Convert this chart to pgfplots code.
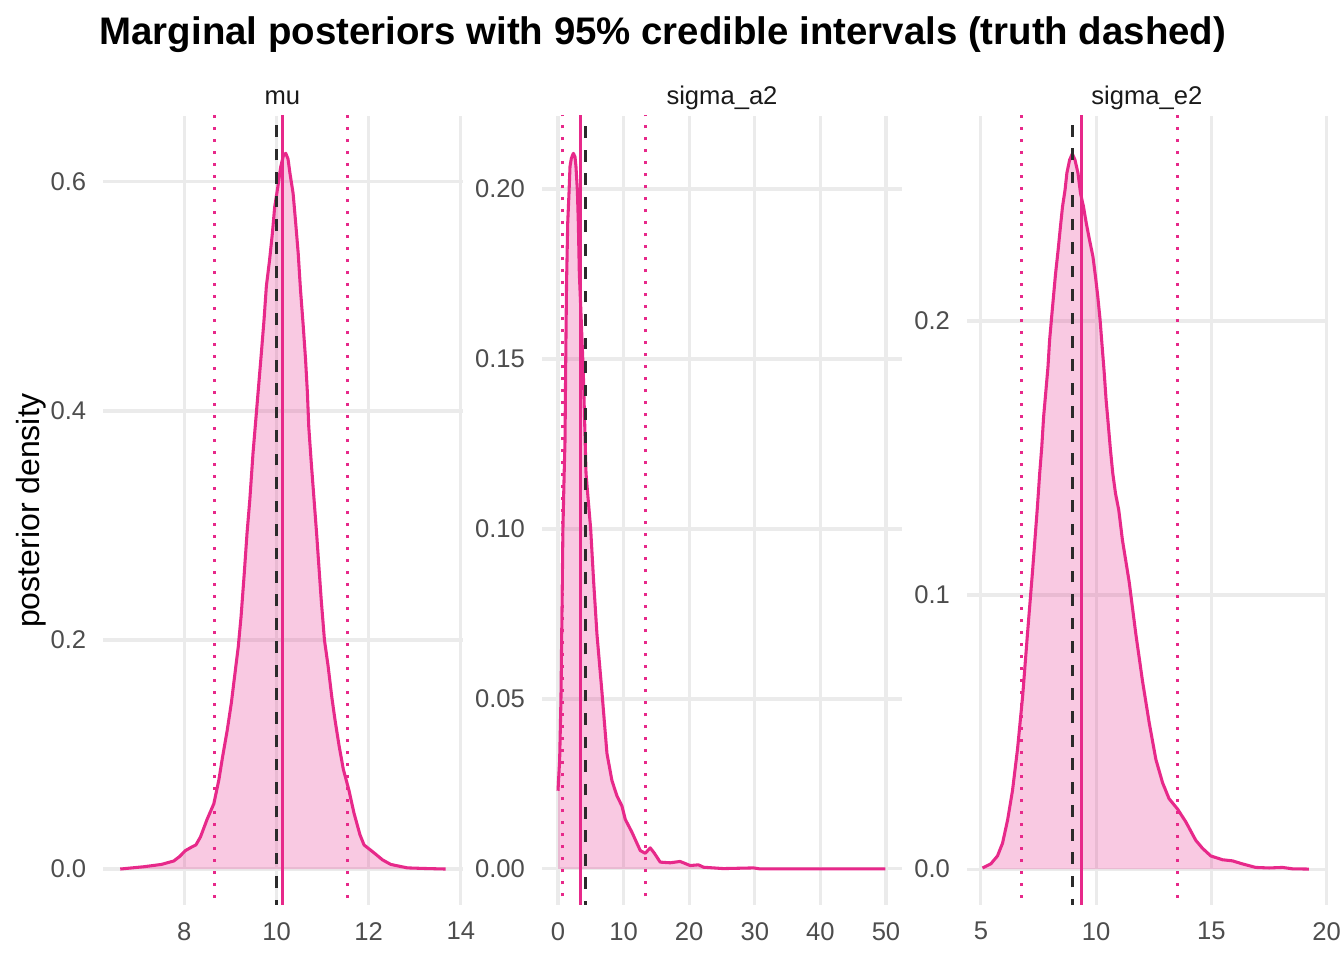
\documentclass[border=0pt]{standalone}
\usepackage{pgfplots}
\pgfplotsset{compat=1.18}
\usepackage{fontspec}
\setmainfont{Liberation Sans}
\definecolor{dpink}{HTML}{E7298A}
\definecolor{gridgrey}{HTML}{EBEBEB}
\definecolor{ticktext}{HTML}{4D4D4D}
\definecolor{striptext}{HTML}{1A1A1A}
\definecolor{truthcol}{HTML}{2B2B2B}
\pgfplotsset{
  panel/.style={
    scale only axis, width=135pt, height=295.875pt, anchor=south west,
    axis line style={draw=none}, tick style={draw=none}, major tick length=0pt,
    xmajorgrids, ymajorgrids,
    major grid style={color=gridgrey, line width=1.16pt},
    xticklabel style={anchor=north, inner sep=0pt, yshift=-6.3pt, text=ticktext, font=\fontsize{9.6}{11}\selectfont},
    yticklabel style={anchor=east, inner sep=0pt, xshift=-6.2pt, text=ticktext, font=\fontsize{9.6}{11}\selectfont},
  },
  dfill/.style={draw=none, fill=dpink, fill opacity=0.25},
  dline/.style={dpink, line width=1.15pt, line join=round},
  ciline/.style={dpink, line width=1.1pt, dash pattern=on 1.1pt off 3.4pt},
  meanline/.style={dpink, line width=1.15pt},
  truthline/.style={truthcol, line width=1.15pt, dash pattern=on 4.4pt off 4.4pt},
}
\pgfplotstableread{
x y
6.61 0
7.12 0.002
7.5 0.004
7.77 0.007
7.9 0.011
8.02 0.016
8.15 0.019
8.25 0.021
8.35 0.028
8.49 0.043
8.64 0.057
8.75 0.078
8.83 0.098
8.93 0.121
9.02 0.145
9.09 0.168
9.17 0.194
9.23 0.22
9.30 0.258
9.36 0.293
9.42 0.322
9.49 0.363
9.55 0.392
9.61 0.421
9.67 0.45
9.73 0.48
9.78 0.509
9.85 0.532
9.91 0.555
9.96 0.578
10.03 0.596
10.09 0.613
10.15 0.623
10.2 0.625
10.25 0.62
10.29 0.608
10.36 0.59
10.41 0.567
10.47 0.538
10.52 0.506
10.58 0.474
10.63 0.445
10.67 0.416
10.70 0.386
10.75 0.357
10.81 0.325
10.87 0.293
10.92 0.264
10.97 0.235
11.04 0.2
11.12 0.177
11.2 0.15
11.27 0.13
11.36 0.107
11.45 0.087
11.57 0.069
11.68 0.049
11.81 0.03
11.90 0.021
12.12 0.014
12.3 0.008
12.48 0.004
12.84 0.001
13.2 0.0005
13.67 0
}\mudata
\pgfplotstableread{
x y
0 0.023
0.25 0.032
0.45 0.05
0.6 0.075
0.75 0.1
0.96 0.118
1.07 0.126
1.17 0.148
1.3 0.172
1.48 0.19
1.68 0.199
1.83 0.2066
2.03 0.209
2.34 0.2105
2.59 0.2095
2.74 0.2066
2.95 0.1997
3.10 0.19
3.25 0.1752
3.46 0.1654
3.66 0.1556
3.86 0.1458
4.07 0.131
4.27 0.1164
4.52 0.1105
4.98 0.1
5.43 0.0846
5.94 0.069
6.7 0.052
7.46 0.034
8.22 0.026
8.98 0.0215
9.75 0.0185
10.25 0.0146
11.27 0.0108
12.54 0.0054
13.3 0.0046
14.06 0.0062
14.7 0.0046
15.58 0.002
17.1 0.0018
18.6 0.0022
20.15 0.001
21.4 0.0012
22.2 0.0005
25.2 0.0001
29.8 0.0003
30.8 0
49.9 0
}\sadata
\pgfplotstableread{
x y
5.07 0.0004
5.43 0.0019
5.72 0.0048
5.94 0.0095
6.16 0.018
6.37 0.0286
6.59 0.0439
6.81 0.063
7.02 0.0858
7.24 0.1087
7.45 0.132
7.55 0.1444
7.64 0.154
7.72 0.165
7.81 0.1736
7.91 0.1833
7.98 0.193
8.07 0.2016
8.16 0.21
8.24 0.2174
8.35 0.2259
8.45 0.2344
8.54 0.2417
8.65 0.2478
8.73 0.254
8.85 0.2588
8.965 0.261
9.08 0.2588
9.21 0.254
9.32 0.2466
9.45 0.2417
9.57 0.2357
9.71 0.2296
9.86 0.2235
9.97 0.2162
10.07 0.2089
10.17 0.2004
10.26 0.1906
10.35 0.181
10.43 0.1712
10.52 0.1627
10.62 0.1529
10.72 0.1444
10.84 0.137
10.98 0.131
11.14 0.12
11.43 0.1049
11.72 0.0858
12.01 0.0686
12.3 0.0534
12.59 0.04
12.88 0.0315
13.16 0.0257
13.53 0.0219
13.89 0.0172
14.32 0.0105
14.61 0.0076
14.97 0.0048
15.48 0.0034
15.91 0.003
16.34 0.0019
16.92 0.0006
17.5 0.0004
18.08 0.0006
18.51 0.0001
19.23 0
}\sedata
\begin{document}
\begin{tikzpicture}
\useasboundingbox (0,0) rectangle (504pt,360pt);

% ---------- mu ----------
\begin{axis}[panel, at={(38.7pt,20.625pt)},
  xmin=6.24, xmax=14.05, ymin=-0.0314, ymax=0.6576,
  xtick={8,10,12,14}, xticklabels={8,10,12,14},
  ytick={0,0.2,0.4,0.6}, yticklabels={0.0,0.2,0.4,0.6}]
\addplot[dfill] table[x=x,y=y] {\mudata} \closedcycle;
\addplot[dline] table[x=x,y=y] {\mudata};
\addplot[ciline] coordinates {(8.66,-1) (8.66,1)};
\addplot[ciline] coordinates {(11.53,-1) (11.53,1)};
\addplot[meanline] coordinates {(10.137,-1) (10.137,1)};
\addplot[truthline] coordinates {(10,-1) (10,1)};
\end{axis}

% ---------- sigma_a2 ----------
\begin{axis}[panel, at={(203.25pt,20.625pt)},
  xmin=-2.44, xmax=52.44, ymin=-0.0106, ymax=0.2215,
  xtick={0,10,20,30,40,50}, xticklabels={0,10,20,30,40,50},
  ytick={0,0.05,0.10,0.15,0.20}, yticklabels={0.00,0.05,0.10,0.15,0.20}]
\addplot[dfill] table[x=x,y=y] {\sadata} \closedcycle;
\addplot[dline] table[x=x,y=y] {\sadata};
\addplot[ciline] coordinates {(0.68,-1) (0.68,1)};
\addplot[ciline] coordinates {(13.3,-1) (13.3,1)};
\addplot[meanline] coordinates {(3.4,-1) (3.4,1)};
\addplot[truthline] coordinates {(4.17,-1) (4.17,1)};
\end{axis}

% ---------- sigma_e2 ----------
\begin{axis}[panel, at={(362.6pt,20.625pt)},
  xmin=4.394, xmax=20.01, ymin=-0.0131, ymax=0.2748,
  xtick={5,10,15,20}, xticklabels={5,10,15,20},
  ytick={0,0.1,0.2}, yticklabels={0.0,0.1,0.2}]
\addplot[dfill] table[x=x,y=y] {\sedata} \closedcycle;
\addplot[dline] table[x=x,y=y] {\sedata};
\addplot[ciline] coordinates {(6.78,-1) (6.78,1)};
\addplot[ciline] coordinates {(13.53,-1) (13.53,1)};
\addplot[meanline] coordinates {(9.38,-1) (9.38,1)};
\addplot[truthline] coordinates {(8.98,-1) (8.98,1)};
\end{axis}

% ---------- texts ----------
\node[anchor=base, inner sep=0pt, font=\fontsize{14.4}{17}\selectfont\bfseries] at (248.6pt,343.5pt) {Marginal posteriors with 95\% credible intervals (truth dashed)};
\node[anchor=base, inner sep=0pt, text=striptext, font=\fontsize{9.6}{11}\selectfont] at (105.9pt,321pt) {mu};
\node[anchor=base, inner sep=0pt, text=striptext, font=\fontsize{9.6}{11}\selectfont] at (270.75pt,321pt) {sigma\_a2};
\node[anchor=base, inner sep=0pt, text=striptext, font=\fontsize{9.6}{11}\selectfont] at (430.1pt,321pt) {sigma\_e2};
\node[anchor=base, rotate=90, inner sep=0pt, font=\fontsize{12}{14}\selectfont] at (15pt,168.6pt) {posterior density};
\end{tikzpicture}
\end{document}
